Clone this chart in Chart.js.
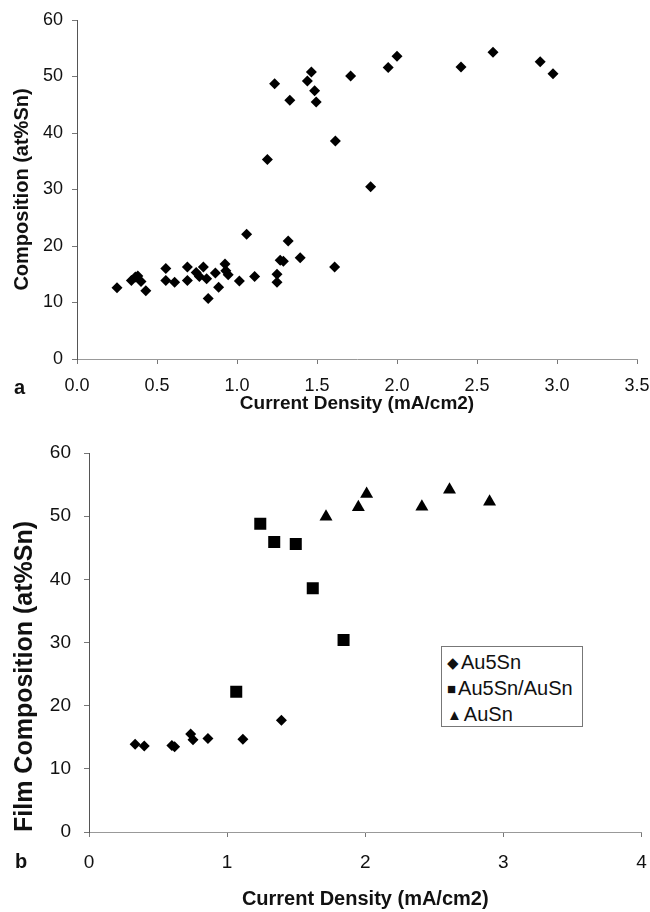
<!DOCTYPE html>
<html>
<head>
<meta charset="utf-8">
<script src="https://cdn.jsdelivr.net/npm/chart.js@4.4.1/dist/chart.umd.min.js"></script>
<style>
  body { margin: 0; background: #fff; width: 650px; height: 912px; position: relative; overflow: hidden; }
  canvas { position: absolute; left: 0; }
  #chartA { top: 0; }
  #chartB { top: 420px; }
  .panel { position: absolute; font: bold 20px "Liberation Sans", Arial, sans-serif; color: #111; }
  #legendB { position: absolute; left: 441px; top: 646px; width: 142px; height: 81px; border: 1px solid #777;
             background: #fff; font: 20px "Liberation Sans", Arial, sans-serif; color: #111; padding-top: 2px; box-sizing: border-box; }
  #legendB div { height: 26px; line-height: 26px; padding-left: 5px; white-space: nowrap; }
  #legendB span { font-size: 15px; margin-right: 2px; position: relative; top: -1px; }
</style>
</head>
<body>
<canvas id="chartA" width="650" height="420"></canvas>
<canvas id="chartB" width="650" height="492"></canvas>
<div class="panel" style="left:14px; top:376px;">a</div>
<div class="panel" style="left:15px; top:850px;">b</div>
<div id="legendB"></div>
<script>
// chart a: all films
var aX = [0.25, 0.34, 0.365, 0.38, 0.40, 0.43, 0.555, 0.555, 0.61, 0.69, 0.69, 0.745, 0.765, 0.79, 0.81, 0.82,
          0.865, 0.885, 0.925, 0.93, 0.945, 1.015, 1.06, 1.11, 1.19, 1.235, 1.25, 1.25, 1.27, 1.29, 1.32, 1.33,
          1.395, 1.44, 1.465, 1.485, 1.495, 1.61, 1.615, 1.71, 1.835, 1.945, 2.00, 2.40, 2.60, 2.895, 2.975];
var aY = [12.6, 13.9, 14.5, 14.7, 13.7, 12.1, 16.0, 13.9, 13.6, 16.3, 13.9, 15.3, 14.6, 16.3, 14.2, 10.7,
          15.2, 12.7, 16.8, 15.6, 14.9, 13.8, 22.1, 14.6, 35.3, 48.7, 15.0, 13.6, 17.5, 17.3, 20.9, 45.8,
          17.9, 49.2, 50.8, 47.5, 45.5, 16.3, 38.6, 50.1, 30.5, 51.6, 53.6, 51.7, 54.3, 52.6, 50.5];

// chart b: by phase
var au5snX = [0.334, 0.40, 0.60, 0.62, 0.736, 0.753, 0.861, 1.114, 1.393];
var au5snY = [13.9, 13.6, 13.7, 13.5, 15.5, 14.6, 14.8, 14.7, 17.7];
var mixX = [1.066, 1.24, 1.341, 1.497, 1.62, 1.843];
var mixY = [22.2, 48.8, 45.9, 45.6, 38.6, 30.4];
var ausnX = [1.716, 1.95, 2.01, 2.41, 2.61, 2.90];
var ausnY = [49.9, 51.4, 53.5, 51.5, 54.2, 52.3];

var seriesNames = ["Au5Sn", "Au5Sn/AuSn", "AuSn"];
var xTicksA = ["0.0", "0.5", "1.0", "1.5", "2.0", "2.5", "3.0", "3.5"];
var xTicksB = ["0", "1", "2", "3", "4"];
var yTicks = ["0", "10", "20", "30", "40", "50", "60"];

function pts(xs, ys) {
  return xs.map(function (x, i) { return { x: x, y: ys[i] }; });
}

var FONT = '"Liberation Sans", Arial, sans-serif';
Chart.defaults.font.family = FONT;
Chart.defaults.color = '#111';

function axes(o) {
  return {
    x: {
      type: 'linear', min: 0, max: o.xmax,
      border: { display: true, color: '#999', width: 1 },
      grid: { display: true, drawOnChartArea: false, drawTicks: true, tickLength: 5, color: '#777' },
      ticks: {
        stepSize: o.xstep, padding: o.xpad, color: '#111', font: { size: o.tickSize },
        maxRotation: 0, autoSkip: false,
        callback: function (v, i) { return o.xTicks[i]; }
      },
      title: { display: true, text: 'Current Density (mA/cm2)', color: '#111',
               font: { size: o.xTitleSize, weight: 'bold' }, padding: { top: 0, bottom: o.xTitlePad } },
      afterFit: function (s) {
        s.height = o.xHeight;
        // the last label may run to the page edge, as in the original
        s.paddingLeft = 0;
        s.paddingRight = 0;
      }
    },
    y: {
      type: 'linear', min: 0, max: 60,
      border: { display: true, color: '#555', width: 1 },
      grid: { display: true, drawOnChartArea: false, drawTicks: true, tickLength: 5, color: '#777' },
      ticks: {
        stepSize: 10, padding: o.ypad, color: '#111', font: { size: o.tickSize },
        callback: function (v, i) { return yTicks[i]; }
      },
      title: { display: true, text: o.yTitle, color: '#111', align: o.yAlign,
               font: { size: o.yTitleSize, weight: 'bold' }, padding: { top: o.yTitlePad, bottom: 0 } },
      afterFit: function (s) { s.width = o.yWidth; }
    }
  };
}

new Chart(document.getElementById('chartA'), {
  type: 'scatter',
  data: {
    datasets: [{
      label: 'Composition',
      data: pts(aX, aY),
      pointStyle: 'rectRot', pointRadius: 5.5,
      backgroundColor: '#000', borderColor: '#000', borderWidth: 0
    }]
  },
  options: {
    responsive: false, animation: false,
    layout: { padding: { top: 20, right: 13, left: 0, bottom: 0 } },
    plugins: { legend: { display: false }, tooltip: { enabled: false } },
    scales: axes({ xmax: 3.5, xstep: 0.5, xTicks: xTicksA, xpad: 11, tickSize: 18, xTitleSize: 19,
                   xTitlePad: 5, xHeight: 61, ypad: 9, yTitle: 'Composition (at%Sn)', yAlign: 'center',
                   yTitleSize: 20, yTitlePad: 10, yWidth: 77 })
  }
});

var chartB = new Chart(document.getElementById('chartB'), {
  type: 'scatter',
  data: {
    datasets: [
      { label: seriesNames[0], data: pts(au5snX, au5snY), pointStyle: 'rectRot', pointRadius: 5.5,
        backgroundColor: '#000', borderColor: '#000', borderWidth: 0 },
      { label: seriesNames[1], data: pts(mixX, mixY), pointStyle: 'rect', pointRadius: 8.5,
        backgroundColor: '#000', borderColor: '#000', borderWidth: 0 },
      { label: seriesNames[2], data: pts(ausnX, ausnY), pointStyle: 'triangle', pointRadius: 7.5,
        backgroundColor: '#000', borderColor: '#000', borderWidth: 0 }
    ]
  },
  options: {
    responsive: false, animation: false,
    layout: { padding: { top: 33, right: 7, left: 0, bottom: 0 } },
    plugins: { legend: { display: false }, tooltip: { enabled: false } },
    scales: axes({ xmax: 4, xstep: 1, xTicks: xTicksB, xpad: 14, tickSize: 19, xTitleSize: 20,
                   xTitlePad: 1, xHeight: 80, ypad: 13, yTitle: 'Film Composition (at%Sn)', yAlign: 'start',
                   yTitleSize: 25, yTitlePad: 10, yWidth: 89 })
  }
});

// legend box inside panel b, built from the dataset labels
var symbols = { rectRot: '\u25C6', rect: '\u25A0', triangle: '\u25B2' };
document.getElementById('legendB').innerHTML = chartB.data.datasets.map(function (d) {
  return '<div><span>' + symbols[d.pointStyle] + '</span>' + d.label + '</div>';
}).join('');
</script>
</body>
</html>
